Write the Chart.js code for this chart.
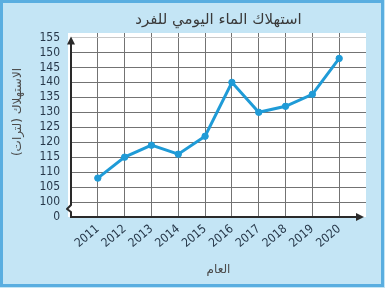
<!DOCTYPE html>
<html>
<head>
<meta charset="utf-8">
<script src="https://cdn.jsdelivr.net/npm/chart.js@4/dist/chart.umd.min.js"></script>
<style>
html,body{margin:0;padding:0;background:#c4e5f5;}
canvas{display:block;}
</style>
</head>
<body>
<canvas id="c" width="385" height="288"></canvas>
<script>
// ---- data ----
const years = [2011, 2012, 2013, 2014, 2015, 2016, 2017, 2018, 2019, 2020];
const consumption = [108, 115, 119, 116, 122, 140, 130, 132, 136, 148];
const yTickValues = [95, 100, 105, 110, 115, 120, 125, 130, 135, 140, 145, 150, 155];
const yTickLabels = ['0', '100', '105', '110', '115', '120', '125', '130', '135', '140', '145', '150', '155'];
const chartTitle = 'استهلاك الماء اليومي للفرد';
const xTitle = 'العام';
const yTitle = 'الاستهلاك (لترات)';

const tickFont = {family: '"DejaVu Sans Condensed", "Liberation Sans Narrow", "Liberation Sans", sans-serif', size: 12};
const tickColor = '#27384a';
const gridDark = '#737373';
const lineBlue = '#1f9bd7';

const decor = {
  id: 'decor',
  beforeDraw(chart) {
    const ctx = chart.ctx, a = chart.chartArea;
    ctx.save();
    ctx.fillStyle = '#c4e5f5';
    ctx.fillRect(0, 0, chart.width, chart.height);
    ctx.strokeStyle = '#5aaee0';
    ctx.lineWidth = 3;
    ctx.strokeRect(1.5, 1.5, chart.width - 4, chart.height - 4);
    ctx.fillStyle = '#ffffff';
    ctx.fillRect(a.left - 3, a.top, a.right - a.left + 3, a.bottom - a.top);
    ctx.restore();
  },
  beforeDatasetsDraw(chart) {
    const ctx = chart.ctx, a = chart.chartArea;
    const ys = chart.scales.y;
    const L = a.left, B = a.bottom;
    const topTip = ys.getPixelForValue(155) - 1;
    ctx.save();
    ctx.strokeStyle = '#2a2a2a';
    ctx.fillStyle = '#2a2a2a';
    ctx.lineWidth = 2;
    ctx.lineJoin = 'round';
    // y axis with break squiggle
    ctx.beginPath();
    ctx.moveTo(L, topTip + 6);
    ctx.lineTo(L, B - 12);
    ctx.lineTo(L - 4, B - 8);
    ctx.lineTo(L, B - 5);
    ctx.lineTo(L, B);
    ctx.stroke();
    // x axis
    ctx.beginPath();
    ctx.moveTo(L - 1, B);
    ctx.lineTo(a.right - 7, B);
    ctx.stroke();
    // arrows
    ctx.beginPath();
    ctx.moveTo(L, topTip);
    ctx.lineTo(L - 4, topTip + 8);
    ctx.lineTo(L + 4, topTip + 8);
    ctx.closePath();
    ctx.fill();
    ctx.beginPath();
    ctx.moveTo(a.right - 2, B);
    ctx.lineTo(a.right - 10, B - 4);
    ctx.lineTo(a.right - 10, B + 4);
    ctx.closePath();
    ctx.fill();
    ctx.restore();
  },
  afterDraw(chart) {
    const ctx = chart.ctx;
    ctx.save();
    ctx.translate(18, 112);
    ctx.rotate(-Math.PI / 2);
    ctx.direction = 'rtl';
    ctx.textAlign = 'center';
    ctx.textBaseline = 'middle';
    ctx.fillStyle = '#4a4a4a';
    ctx.font = '12px "DejaVu Sans", sans-serif';
    ctx.fillText(yTitle, 0, 0);
    ctx.restore();
  }
};

new Chart(document.getElementById('c'), {
  type: 'line',
  data: {
    datasets: [{
      data: years.map((yr, i) => ({x: yr, y: consumption[i]})),
      borderColor: lineBlue,
      backgroundColor: lineBlue,
      borderWidth: 3,
      pointRadius: 3.2,
      pointBorderWidth: 1,
      pointBackgroundColor: lineBlue,
      pointBorderColor: lineBlue,
      tension: 0
    }]
  },
  options: {
    responsive: false,
    devicePixelRatio: 1,
    animation: false,
    layout: {padding: {left: 0, right: 19, top: 0, bottom: 0}},
    plugins: {
      legend: {display: false},
      tooltip: {enabled: false},
      title: {
        display: true,
        text: chartTitle,
        fullSize: false,
        color: '#3a3a3a',
        font: {family: '"DejaVu Sans", sans-serif', size: 15, weight: 'normal'},
        padding: {top: 11, bottom: 4}
      }
    },
    scales: {
      x: {
        type: 'linear',
        min: 2010,
        max: 2021,
        afterFit: s => { s.height = 71; },
        border: {display: false},
        grid: {
          drawTicks: false,
          color: c => years.includes(c.tick.value) ? gridDark : 'rgba(0,0,0,0)',
          lineWidth: 1
        },
        ticks: {
          stepSize: 1,
          autoSkip: false,
          maxRotation: 40,
          minRotation: 40,
          padding: 5,
          color: tickColor,
          font: tickFont,
          callback: v => years.includes(v) ? String(v) : ''
        },
        title: {
          display: true,
          text: xTitle,
          color: '#4a4a4a',
          font: {family: '"DejaVu Sans", sans-serif', size: 12},
          padding: {top: 2, bottom: 11}
        }
      },
      y: {
        type: 'linear',
        min: 95,
        max: 156.5,
        afterFit: s => { s.width = 71; },
        border: {display: false},
        grid: {
          drawTicks: false,
          color: c => c.tick.value === 95 ? 'rgba(0,0,0,0)' : (c.tick.value === 155 ? '#c8c8c8' : gridDark),
          lineWidth: 1
        },
        ticks: {
          stepSize: 5,
          includeBounds: false,
          autoSkip: false,
          padding: 11,
          color: tickColor,
          font: tickFont,
          callback: v => {
            const i = yTickValues.indexOf(v);
            return i >= 0 ? yTickLabels[i] : '';
          }
        }
      }
    }
  },
  plugins: [decor]
});
</script>
</body>
</html>
